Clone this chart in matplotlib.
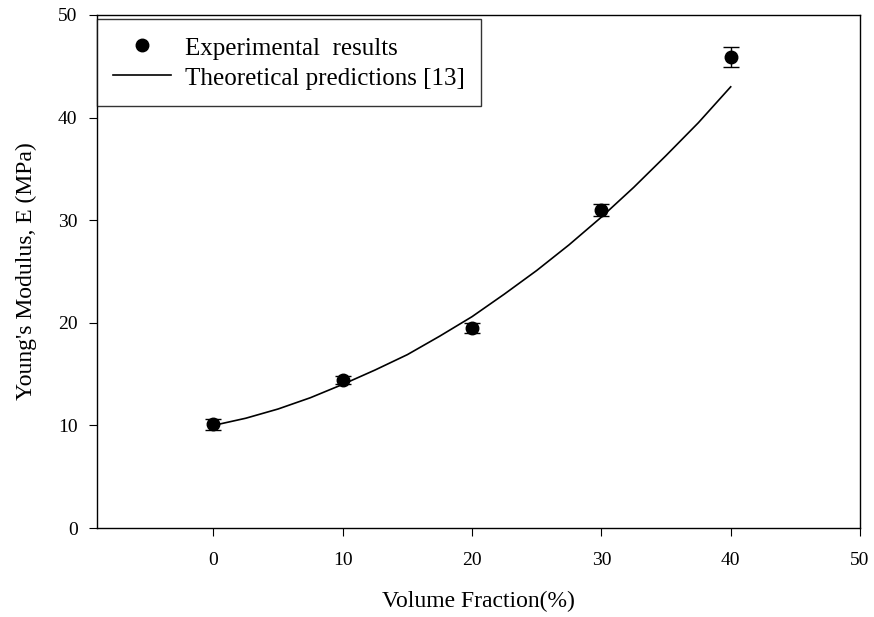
import matplotlib
matplotlib.use('Agg')
import matplotlib.pyplot as plt
from matplotlib.lines import Line2D

#------------------------------------------------data
vol_frac = [0, 10, 20, 30, 40]
modulus = [10.1, 14.4, 19.5, 31.0, 45.9]
modulus_err = [0.5, 0.4, 0.5, 0.6, 1.0]

theory_x = [0, 2.5, 5, 7.5, 10, 12.5, 15, 17.5, 20, 22.5, 25, 27.5, 30, 32.5, 35, 37.5, 40]
theory_y = [10.0, 10.7, 11.6, 12.7, 14.0, 15.4, 16.9, 18.7, 20.6, 22.8, 25.1, 27.6, 30.3, 33.2, 36.3, 39.5, 43.0]

#------------------------------------------------style
plt.rcParams['font.family'] = ['Liberation Serif', 'DejaVu Serif']

fig = plt.figure(figsize=(8.74, 6.17), dpi=100)
ax = fig.add_axes([0.111, 0.1442, 0.873, 0.8315])

ax.errorbar(vol_frac, modulus, yerr=modulus_err, fmt='o', color='black',
            markersize=9, capsize=6, elinewidth=1, capthick=1, zorder=3)
ax.plot(theory_x, theory_y, color='black', lw=1.2)

ax.set_xlim(-9, 50)
ax.set_ylim(0, 50)
ax.set_xticks([0, 10, 20, 30, 40, 50])
ax.set_yticks([0, 10, 20, 30, 40, 50])
ax.tick_params(direction='out', length=6, labelsize=14, top=False, right=False)
ax.tick_params(axis='x', pad=11)
ax.tick_params(axis='y', pad=8)
for s in ax.spines.values():
    s.set_linewidth(1.0)

ax.set_xlabel('Volume Fraction(%)', fontsize=17, labelpad=16)
ax.set_ylabel("Young's Modulus, E (MPa)", fontsize=17, labelpad=15)

#------------------------------------------------legend
h_exp = Line2D([], [], marker='o', color='black', ls='none', markersize=9)
h_th = Line2D([], [], color='black', lw=1.2)
leg = ax.legend([h_exp, h_th], ['Experimental  results', 'Theoretical predictions [13]'],
                loc='upper left', bbox_to_anchor=(0.0, 0.992), fontsize=18,
                frameon=True, fancybox=False, edgecolor='black', borderpad=0.65,
                handlelength=2.3, handleheight=1.0, handletextpad=0.55,
                labelspacing=0.2, borderaxespad=0)
leg.get_frame().set_linewidth(1.0)

plt.savefig('out.png', dpi=100)
